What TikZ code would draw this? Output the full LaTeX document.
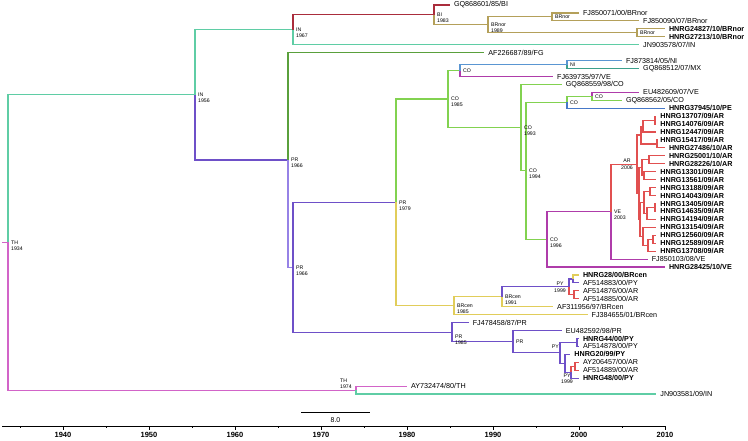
\documentclass[tikz,border=0pt]{standalone}
\usepackage{fontspec}
\setmainfont{Liberation Sans}
\usetikzlibrary{calc}
\definecolor{cIN}{RGB}{95,205,165}
\definecolor{cBI}{RGB}{170,45,60}
\definecolor{cBRn}{RGB}{180,160,90}
\definecolor{cFG}{RGB}{90,160,60}
\definecolor{cCO}{RGB}{130,210,80}
\definecolor{cNI}{RGB}{90,150,210}
\definecolor{cMX}{RGB}{60,160,140}
\definecolor{cVE}{RGB}{175,60,170}
\definecolor{cPE}{RGB}{70,120,200}
\definecolor{cAR}{RGB}{225,80,80}
\definecolor{cPR}{RGB}{110,80,200}
\definecolor{cPRl}{RGB}{150,130,230}
\definecolor{cBRc}{RGB}{225,205,90}
\definecolor{cTH}{RGB}{210,100,200}
\newcommand\tp[3]{\coordinate (#1) at (#2,{5+7.94*(#3)});}
\newcommand\nd[4]{\path let \p1=($(#3)!0.5!(#4)$) in (#2pt,\y1) coordinate (#1);}
\newcommand\ed[3]{\draw[br,#1] (#2) |- (#3);}
\begin{document}
\begin{tikzpicture}[x=1pt,y=-1pt,
  br/.style={line width=1.15pt},
  tip/.style={anchor=west,inner sep=0.5pt,xshift=3.3pt,font=\fontsize{7.2}{8}\selectfont},
  tipb/.style={tip,font=\fontsize{7.2}{8}\selectfont\bfseries},
  nl/.style={anchor=north west,align=left,inner sep=0pt,xshift=3pt,yshift=1.9pt,font=\fontsize{5.2}{6}\selectfont},
  nlx/.style={inner sep=0pt,align=left,font=\fontsize{5.2}{6}\selectfont},
  axl/.style={anchor=north,inner sep=0pt,font=\fontsize{7.5}{9}\selectfont\bfseries},
]
\useasboundingbox[fill=white] (0,0) rectangle (748,441);
% tips
\tp{t0}{450}{0}\tp{t1}{579}{1}\tp{t2}{639.2}{2}\tp{t3}{665}{3}\tp{t4}{665}{4}
\tp{t5}{639.2}{5}\tp{t6}{484.4}{6}\tp{t7}{622}{7}\tp{t8}{639.2}{8}\tp{t9}{553.2}{9}
\tp{t10}{561.8}{10}\tp{t11}{639.2}{11}\tp{t12}{622}{12}\tp{t13}{665}{13}
\tp{t14}{656.4}{14}\tp{t15}{656.4}{15}\tp{t16}{656.4}{16}\tp{t17}{656.4}{17}
\tp{t18}{665}{18}\tp{t19}{665}{19}\tp{t20}{665}{20}
\tp{t21}{656.4}{21}\tp{t22}{656.4}{22}\tp{t23}{656.4}{23}\tp{t24}{656.4}{24}
\tp{t25}{656.4}{25}\tp{t26}{656.4}{26}\tp{t27}{656.4}{27}\tp{t28}{656.4}{28}
\tp{t29}{656.4}{29}\tp{t30}{656.4}{30}\tp{t31}{656.4}{31}
\tp{t32}{647.8}{32}\tp{t33}{665}{33}
\tp{t34}{579}{34}\tp{t35}{579}{35}\tp{t36}{579}{36}\tp{t37}{579}{37}
\tp{t38}{553.2}{38}\tp{t39}{587.6}{39}\tp{t40}{468.8}{40}\tp{t41}{561.8}{41}
\tp{t42}{579}{42}\tp{t43}{579}{43}\tp{t44}{570.4}{44}\tp{t45}{579}{45}
\tp{t46}{579}{46}\tp{t47}{579}{47}\tp{t48}{407}{48}\tp{t49}{656.4}{49}
% internal nodes
\nd{BRn97}{552}{t1}{t2}\nd{BRn07}{637}{t3}{t4}\nd{BRn89}{488}{BRn97}{BRn07}
\nd{BI83}{434}{t0}{BRn89}\nd{IN67}{293}{BI83}{t5}
\nd{NI}{567}{t7}{t8}\nd{COa}{460}{NI}{t9}
\nd{COc}{592}{t11}{t12}\nd{COb}{567}{COc}{t13}
\nd{a1415}{655}{t14}{t15}\nd{W}{643}{a1415}{t16}\nd{a1718}{657}{t17}{t18}
\nd{U}{641}{W}{a1718}
\nd{a1920}{649}{t19}{t20}\nd{L1b}{644}{t21}{t22}\nd{L1}{642}{a1920}{L1b}
\nd{a2324}{650}{t23}{t24}\nd{a2526}{655}{t25}{t26}\nd{M1b}{647}{a2526}{t27}
\nd{M1}{644}{a2324}{M1b}\nd{a2930}{653}{t29}{t30}\nd{M2b}{648}{a2930}{t31}
\nd{M2}{643}{t28}{M2b}\nd{L2}{640}{M1}{M2}\nd{L}{639}{L1}{L2}
\nd{AR06}{637}{U}{L}
\nd{VE03}{611}{AR06}{t32}\nd{CO96}{547}{VE03}{t33}\nd{CO94}{526}{COb}{CO96}
\nd{CO93}{521}{t10}{CO94}\nd{CO85}{448}{COa}{CO93}
\nd{Pa}{573}{t34}{t35}\nd{Pb}{574}{t36}{t37}\nd{PY99a}{569}{Pa}{Pb}
\nd{BRc91}{502}{PY99a}{t38}\nd{BRc85}{454}{BRc91}{t39}\nd{PR79}{396}{CO85}{BRc85}
\nd{Pc}{577}{t42}{t43}\nd{S}{575}{t45}{t46}\nd{R99}{571}{S}{t47}
\nd{Q}{565}{t44}{R99}\nd{PYn}{560}{Pc}{Q}\nd{PRn}{513}{t41}{PYn}
\nd{PR85}{452}{t40}{PRn}\nd{PR66b}{293}{PR79}{PR85}\nd{PR66a}{288}{t6}{PR66b}
\nd{IN56}{195}{IN67}{PR66a}\nd{TH74}{356}{t48}{t49}\nd{R0}{8}{IN56}{TH74}
\path (R0) ++(-6,0) coordinate (stub);
% branches
\draw[br,cTH] (stub) -- (R0);
\ed{cIN}{R0}{IN56}\ed{cTH}{R0}{TH74}
\ed{cTH}{TH74}{t48}\ed{cIN}{TH74}{t49}
\ed{cIN}{IN56}{IN67}\ed{cPR}{IN56}{PR66a}
\ed{cBI}{IN67}{BI83}\ed{cIN}{IN67}{t5}
\ed{cBI}{BI83}{t0}\ed{cBRn}{BI83}{BRn89}
\ed{cBRn}{BRn89}{BRn97}\ed{cBRn}{BRn89}{BRn07}
\ed{cBRn}{BRn97}{t1}\ed{cBRn}{BRn97}{t2}\ed{cBRn}{BRn07}{t3}\ed{cBRn}{BRn07}{t4}
\ed{cFG}{PR66a}{t6}\ed{cPRl}{PR66a}{PR66b}
\ed{cPR}{PR66b}{PR79}\ed{cPR}{PR66b}{PR85}
\ed{cCO}{PR79}{CO85}\ed{cBRc}{PR79}{BRc85}
\ed{cCO}{CO85}{COa}\ed{cCO}{CO85}{CO93}
\ed{cNI}{COa}{NI}\ed{cVE}{COa}{t9}
\ed{cNI}{NI}{t7}\ed{cMX}{NI}{t8}
\ed{cCO}{CO93}{t10}\ed{cCO}{CO93}{CO94}
\ed{cCO}{CO94}{COb}\ed{cCO}{CO94}{CO96}
\ed{cCO}{COb}{COc}\ed{cPE}{COb}{t13}
\ed{cVE}{COc}{t11}\ed{cCO}{COc}{t12}
\ed{cVE}{CO96}{VE03}\ed{cVE}{CO96}{t33}
\ed{cAR}{VE03}{AR06}\ed{cVE}{VE03}{t32}
\ed{cAR}{AR06}{U}\ed{cAR}{AR06}{L}
\ed{cAR}{U}{W}\ed{cAR}{U}{a1718}\ed{cAR}{W}{a1415}\ed{cAR}{W}{t16}
\ed{cAR}{a1415}{t14}\ed{cAR}{a1415}{t15}\ed{cAR}{a1718}{t17}\ed{cAR}{a1718}{t18}
\ed{cAR}{L}{L1}\ed{cAR}{L}{L2}\ed{cAR}{L1}{a1920}\ed{cAR}{L1}{L1b}
\ed{cAR}{a1920}{t19}\ed{cAR}{a1920}{t20}\ed{cAR}{L1b}{t21}\ed{cAR}{L1b}{t22}
\ed{cAR}{L2}{M1}\ed{cAR}{L2}{M2}\ed{cAR}{M1}{a2324}\ed{cAR}{M1}{M1b}
\ed{cAR}{a2324}{t23}\ed{cAR}{a2324}{t24}\ed{cAR}{M1b}{a2526}\ed{cAR}{M1b}{t27}
\ed{cAR}{a2526}{t25}\ed{cAR}{a2526}{t26}
\ed{cAR}{M2}{t28}\ed{cAR}{M2}{M2b}\ed{cAR}{M2b}{a2930}\ed{cAR}{M2b}{t31}
\ed{cAR}{a2930}{t29}\ed{cAR}{a2930}{t30}
\ed{cBRc}{BRc85}{BRc91}\ed{cBRc}{BRc85}{t39}
\ed{cPR}{BRc91}{PY99a}\ed{cBRc}{BRc91}{t38}
\ed{cPR}{PY99a}{Pa}\ed{cAR}{PY99a}{Pb}
\ed{cBRc}{Pa}{t34}\ed{cPR}{Pa}{t35}\ed{cAR}{Pb}{t36}\ed{cAR}{Pb}{t37}
\ed{cPR}{PR85}{t40}\ed{cPR}{PR85}{PRn}
\ed{cPR}{PRn}{t41}\ed{cPR}{PRn}{PYn}
\ed{cPR}{PYn}{Pc}\ed{cPR}{PYn}{Q}
\ed{cPR}{Pc}{t42}\ed{cPR}{Pc}{t43}
\ed{cPR}{Q}{t44}\ed{cPR}{Q}{R99}
\ed{cAR}{R99}{S}\ed{cPR}{R99}{t47}
\ed{cAR}{S}{t45}\ed{cAR}{S}{t46}
% tip labels
\node[tip] (l0) at (t0) {GQ868601/85/BI};
\node[tip] (l1) at (t1) {FJ850071/00/BRnor};
\node[tip] (l2) at (t2) {FJ850090/07/BRnor};
\node[tipb] (l3) at (t3) {HNRG24827/10/BRnor};
\node[tipb] (l4) at (t4) {HNRG27213/10/BRnor};
\node[tip] (l5) at (t5) {JN903578/07/IN};
\node[tip] (l6) at (t6) {AF226687/89/FG};
\node[tip] (l7) at (t7) {FJ873814/05/NI};
\node[tip] (l8) at (t8) {GQ868512/07/MX};
\node[tip] (l9) at (t9) {FJ639735/97/VE};
\node[tip] (l10) at (t10) {GQ868559/98/CO};
\node[tip] (l11) at (t11) {EU482609/07/VE};
\node[tip] (l12) at (t12) {GQ868562/05/CO};
\node[tipb] (l13) at (t13) {HNRG37945/10/PE};
\node[tipb] (l14) at (t14) {HNRG13707/09/AR};
\node[tipb] (l15) at (t15) {HNRG14076/09/AR};
\node[tipb] (l16) at (t16) {HNRG12447/09/AR};
\node[tipb] (l17) at (t17) {HNRG15417/09/AR};
\node[tipb] (l18) at (t18) {HNRG27486/10/AR};
\node[tipb] (l19) at (t19) {HNRG25001/10/AR};
\node[tipb] (l20) at (t20) {HNRG28226/10/AR};
\node[tipb] (l21) at (t21) {HNRG13301/09/AR};
\node[tipb] (l22) at (t22) {HNRG13561/09/AR};
\node[tipb] (l23) at (t23) {HNRG13188/09/AR};
\node[tipb] (l24) at (t24) {HNRG14043/09/AR};
\node[tipb] (l25) at (t25) {HNRG13405/09/AR};
\node[tipb] (l26) at (t26) {HNRG14635/09/AR};
\node[tipb] (l27) at (t27) {HNRG14194/09/AR};
\node[tipb] (l28) at (t28) {HNRG13154/09/AR};
\node[tipb] (l29) at (t29) {HNRG12560/09/AR};
\node[tipb] (l30) at (t30) {HNRG12589/09/AR};
\node[tipb] (l31) at (t31) {HNRG13708/09/AR};
\node[tip] (l32) at (t32) {FJ850103/08/VE};
\node[tipb] (l33) at (t33) {HNRG28425/10/VE};
\node[tipb] (l34) at (t34) {HNRG28/00/BRcen};
\node[tip] (l35) at (t35) {AF514883/00/PY};
\node[tip] (l36) at (t36) {AF514876/00/AR};
\node[tip] (l37) at (t37) {AF514885/00/AR};
\node[tip] (l38) at (t38) {AF311956/97/BRcen};
\node[tip] (l39) at (t39) {FJ384655/01/BRcen};
\node[tip] (l40) at (t40) {FJ478458/87/PR};
\node[tip] (l41) at (t41) {EU482592/98/PR};
\node[tipb] (l42) at (t42) {HNRG44/00/PY};
\node[tip] (l43) at (t43) {AF514878/00/PY};
\node[tipb] (l44) at (t44) {HNRG20/99/PY};
\node[tip] (l45) at (t45) {AY206457/00/AR};
\node[tip] (l46) at (t46) {AF514889/00/AR};
\node[tipb] (l47) at (t47) {HNRG48/00/PY};
\node[tip] (l48) at (t48) {AY732474/80/TH};
\node[tip] (l49) at (t49) {JN903581/09/IN};
% node labels
\node[nl] (nR0) at (R0) {TH\\1934};
\node[nl] (nIN56) at (IN56) {IN\\1956};
\node[nl] (nIN67) at (IN67) {IN\\1967};
\node[nl] (nBI83) at (BI83) {BI\\1983};
\node[nl] (nBRn89) at (BRn89) {BRnor\\1989};
\node[nl] (nBRn97) at (BRn97) {BRnor};
\node[nl] (nBRn07) at (BRn07) {BRnor};
\node[nl] (nPR66a) at (PR66a) {PR\\1966};
\node[nl] (nPR66b) at (PR66b) {PR\\1966};
\node[nl] (nPR79) at (PR79) {PR\\1979};
\node[nl] (nCO85) at (CO85) {CO\\1985};
\node[nl] (nCOa) at (COa) {CO};
\node[nl] (nNI) at (NI) {NI};
\node[nl] (nCO93) at (CO93) {CO\\1993};
\node[nl] (nCOb) at (COb) {CO};
\node[nl] (nCOc) at (COc) {CO};
\node[nl] (nCO94) at (CO94) {CO\\1994};
\node[nl] (nCO96) at (CO96) {CO\\1996};
\node[nl] (nVE03) at (VE03) {VE\\2003};
\node[nlx,anchor=south] (nAR06a) at ([xshift=-10pt,yshift=1.5pt]AR06) {AR};
\node[nlx,anchor=north] (nAR06b) at ([xshift=-10pt,yshift=-1.5pt]AR06) {2006};
\node[nl] (nBRc85) at (BRc85) {BRcen\\1985};
\node[nl] (nBRc91) at (BRc91) {BRcen\\1991};
\node[nlx,anchor=south] (nPY99a) at ([xshift=-9pt,yshift=1.5pt]PY99a) {PY};
\node[nlx,anchor=north] (nPY99b) at ([xshift=-9pt,yshift=-1.5pt]PY99a) {1999};
\node[nl,yshift=-4.5pt] (nPR85) at (PR85) {PR\\1985};
\node[nl] (nPRn) at (PRn) {PR};
\node[nlx,anchor=south east] (nPYn) at ([xshift=-1pt,yshift=4pt]PYn) {PY};
\node[nlx,anchor=north,align=center] (nR99) at ([xshift=-4pt,yshift=-1pt]R99) {PY\\1999};
\node[nlx,anchor=south west] (nTH74) at ([xshift=-16pt,yshift=1.5pt]TH74) {TH\\1974};
% scale bar
\coordinate (sb0) at (301,412); \coordinate (sb1) at (370,412);
\draw[line width=0.9pt] (sb0) -- (sb1);
\node[inner sep=0pt,font=\fontsize{7}{8}\selectfont] (sbl) at (335.5,420.5) {8.0};
% axis
\coordinate (ax0) at (2,426); \coordinate (ax1) at (665,426);
\draw[line width=0.8pt] (ax0) -- (ax1);
\foreach \yr in {1935,1945,...,2005} {\draw[line width=0.6pt] ({63+(\yr-1940)*8.6},426) -- ++(0,2);}
\foreach \yr in {1940,1950,...,2010} {\draw[line width=0.6pt] ({63+(\yr-1940)*8.6},426) -- ++(0,3.5);
  \node[axl] (ax\yr) at ({63+(\yr-1940)*8.6},432.5) {\yr};}
\end{tikzpicture}
\end{document}
